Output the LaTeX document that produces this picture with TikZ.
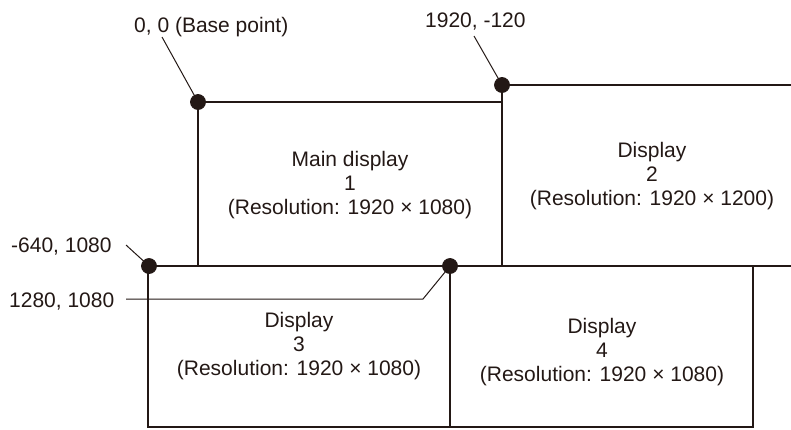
\documentclass[tikz,border=0pt]{standalone}
\usepackage{fontspec}
\setmainfont{Liberation Sans}
\definecolor{ink}{HTML}{231815}
\begin{document}
\begin{tikzpicture}[x={(1pt,0)},y={(0,-1pt)},
  frame/.style={draw=ink,line width=2.4pt,line join=miter},
  leader/.style={draw=ink,line width=1pt},
  dot/.style={circle,fill=ink,draw=ink,line width=0.8pt,minimum size=15pt,inner sep=0pt},
  lbl/.style={font=\fontsize{21}{24}\selectfont,text=ink,inner sep=0pt,anchor=base west},
  box/.style={font=\fontsize{21}{24}\selectfont,text=ink,inner sep=0pt,align=center}]
\useasboundingbox (0,0) rectangle (791,429);
% frames
\draw[frame] (198,266) -- (198,102) -- (502,102);
\draw[frame] (502,266) -- (502,85) -- (791,85);
\draw[frame] (148,266) -- (791,266);
\draw[frame] (148,266) -- (148,427) -- (753,427) -- (753,266);
\draw[frame] (450,266) -- (450,427);
% display texts
\node[box] (d1) at (350,185.5) {Main display\\1\\(Resolution: 1920 × 1080)};
\node[box] (d2) at (652,176.5) {Display\\2\\(Resolution: 1920 × 1200)};
\node[box] (d3) at (299,346.5) {Display\\3\\(Resolution: 1920 × 1080)};
\node[box] (d4) at (602,352.5) {Display\\4\\(Resolution: 1920 × 1080)};
% labels
\node[lbl] (l0) at (134,32) {0, 0 (Base point)};
\node[lbl] (l1) at (425,27) {1920, -120};
\node[lbl] (l2) at (11,252) {-640, 1080};
\node[lbl] (l3) at (9,307) {1280, 1080};
% leader ends
\coordinate (c0) at (162,37);
\coordinate (c1) at (474,36);
\coordinate (c2) at (126,245);
\coordinate (c3) at (126,299);
\coordinate (c3b) at (423,299);
% dots
\node[dot] (p0) at (198,102) {};
\node[dot] (p1) at (502,85) {};
\node[dot] (p2) at (149,266) {};
\node[dot] (p3) at (450,266) {};
% leaders
\draw[leader] (c0) -- (p0.center);
\draw[leader] (c1) -- (p1.center);
\draw[leader] (c2) -- (p2.center);
\draw[leader] (c3) -- (c3b) -- (p3.center);
\end{tikzpicture}
\end{document}
